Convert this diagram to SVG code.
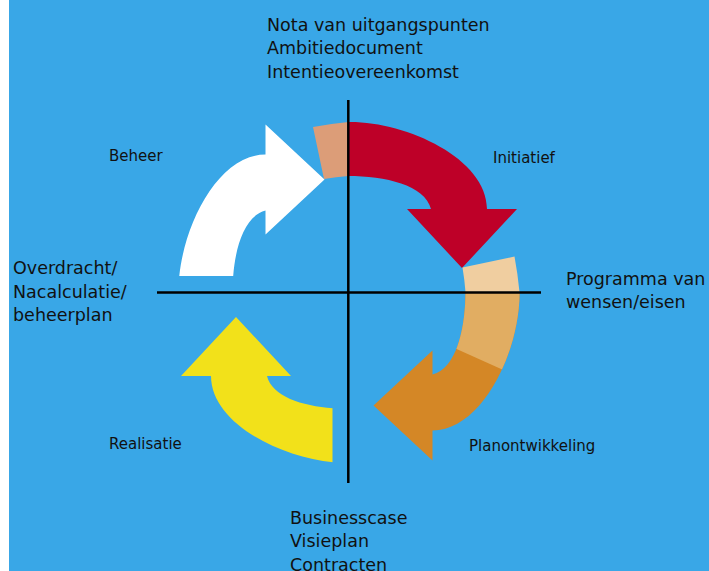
<svg xmlns="http://www.w3.org/2000/svg" xmlns:xlink="http://www.w3.org/1999/xlink" width="709" height="571" viewBox="0 0 709 571">
  <style>
    .lbl { font-family: "DejaVu Sans", "Liberation Sans", sans-serif; fill: #111111; }
    .big { font-size: 17.5px; }
    .small { font-size: 15px; }
    .axis { stroke: #000000; stroke-width: 2.5; fill: none; }
  </style>
  <defs>
    <path id="arrowMain" d="M348,122 C405,121 487,158 487,209 L517,209 L462,268 L407,209 L431,209 C425,185 385,176 348,176 Z"/>
    <path id="tail" d="M313,127 Q330,123.8 348.5,122 L348.5,176 Q336,177 324,179 Z"/>
    <clipPath id="seamClip" clipPathUnits="userSpaceOnUse">
      <polygon points="300,90 448.2,90 383.1,235 300,235"/>
    </clipPath>
    <clipPath id="truncClip" clipPathUnits="userSpaceOnUse">
      <rect x="365.5" y="80" width="200" height="220"/>
    </clipPath>
  </defs>

  <rect x="0" y="0" width="709" height="571" fill="#ffffff"/>
  <rect x="9" y="0" width="700" height="571" fill="#39A7E7"/>

  <g id="initiatief-arrow">
    <use xlink:href="#arrowMain" fill="#BE0028"/>
    <use xlink:href="#tail" fill="#DC9D78"/>
  </g>

  <g id="planontwikkeling-arrow" transform="rotate(90 349 292.5)">
    <use xlink:href="#arrowMain" fill="#D48726"/>
    <use xlink:href="#arrowMain" fill="#E1AD62" clip-path="url(#seamClip)"/>
    <use xlink:href="#tail" fill="#F0CEA0"/>
  </g>

  <g id="realisatie-arrow" transform="rotate(180 349 292.5)">
    <use xlink:href="#arrowMain" fill="#F2E11A" clip-path="url(#truncClip)"/>
  </g>

  <g id="beheer-arrow" transform="rotate(-90 349 292.5)">
    <use xlink:href="#arrowMain" fill="#FFFFFF" clip-path="url(#truncClip)"/>
  </g>

  <g id="connectors">
    <line class="axis" x1="348.3" y1="100" x2="348.3" y2="483"/>
    <line class="axis" x1="157" y1="292.5" x2="541" y2="292.5"/>
  </g>

  <g id="top-label">
    <text class="lbl big" x="267" y="30.5">Nota van uitgangspunten</text>
    <text class="lbl big" x="267" y="54">Ambitiedocument</text>
    <text class="lbl big" x="267" y="77.5">Intentieovereenkomst</text>
  </g>
  <g id="right-label">
    <text class="lbl big" x="566" y="284.5">Programma van</text>
    <text class="lbl big" x="566" y="308">wensen/eisen</text>
  </g>
  <g id="left-label">
    <text class="lbl big" x="13" y="274">Overdracht/</text>
    <text class="lbl big" x="13" y="297.5">Nacalculatie/</text>
    <text class="lbl big" x="13" y="321">beheerplan</text>
  </g>
  <g id="bottom-label">
    <text class="lbl big" x="290" y="523.5">Businesscase</text>
    <text class="lbl big" x="290" y="547">Visieplan</text>
    <text class="lbl big" x="290" y="570.5">Contracten</text>
  </g>
  <g id="phase-labels">
    <text class="lbl small" x="109" y="161">Beheer</text>
    <text class="lbl small" x="493" y="163">Initiatief</text>
    <text class="lbl small" x="469" y="451">Planontwikkeling</text>
    <text class="lbl small" x="109" y="449">Realisatie</text>
  </g>
</svg>
